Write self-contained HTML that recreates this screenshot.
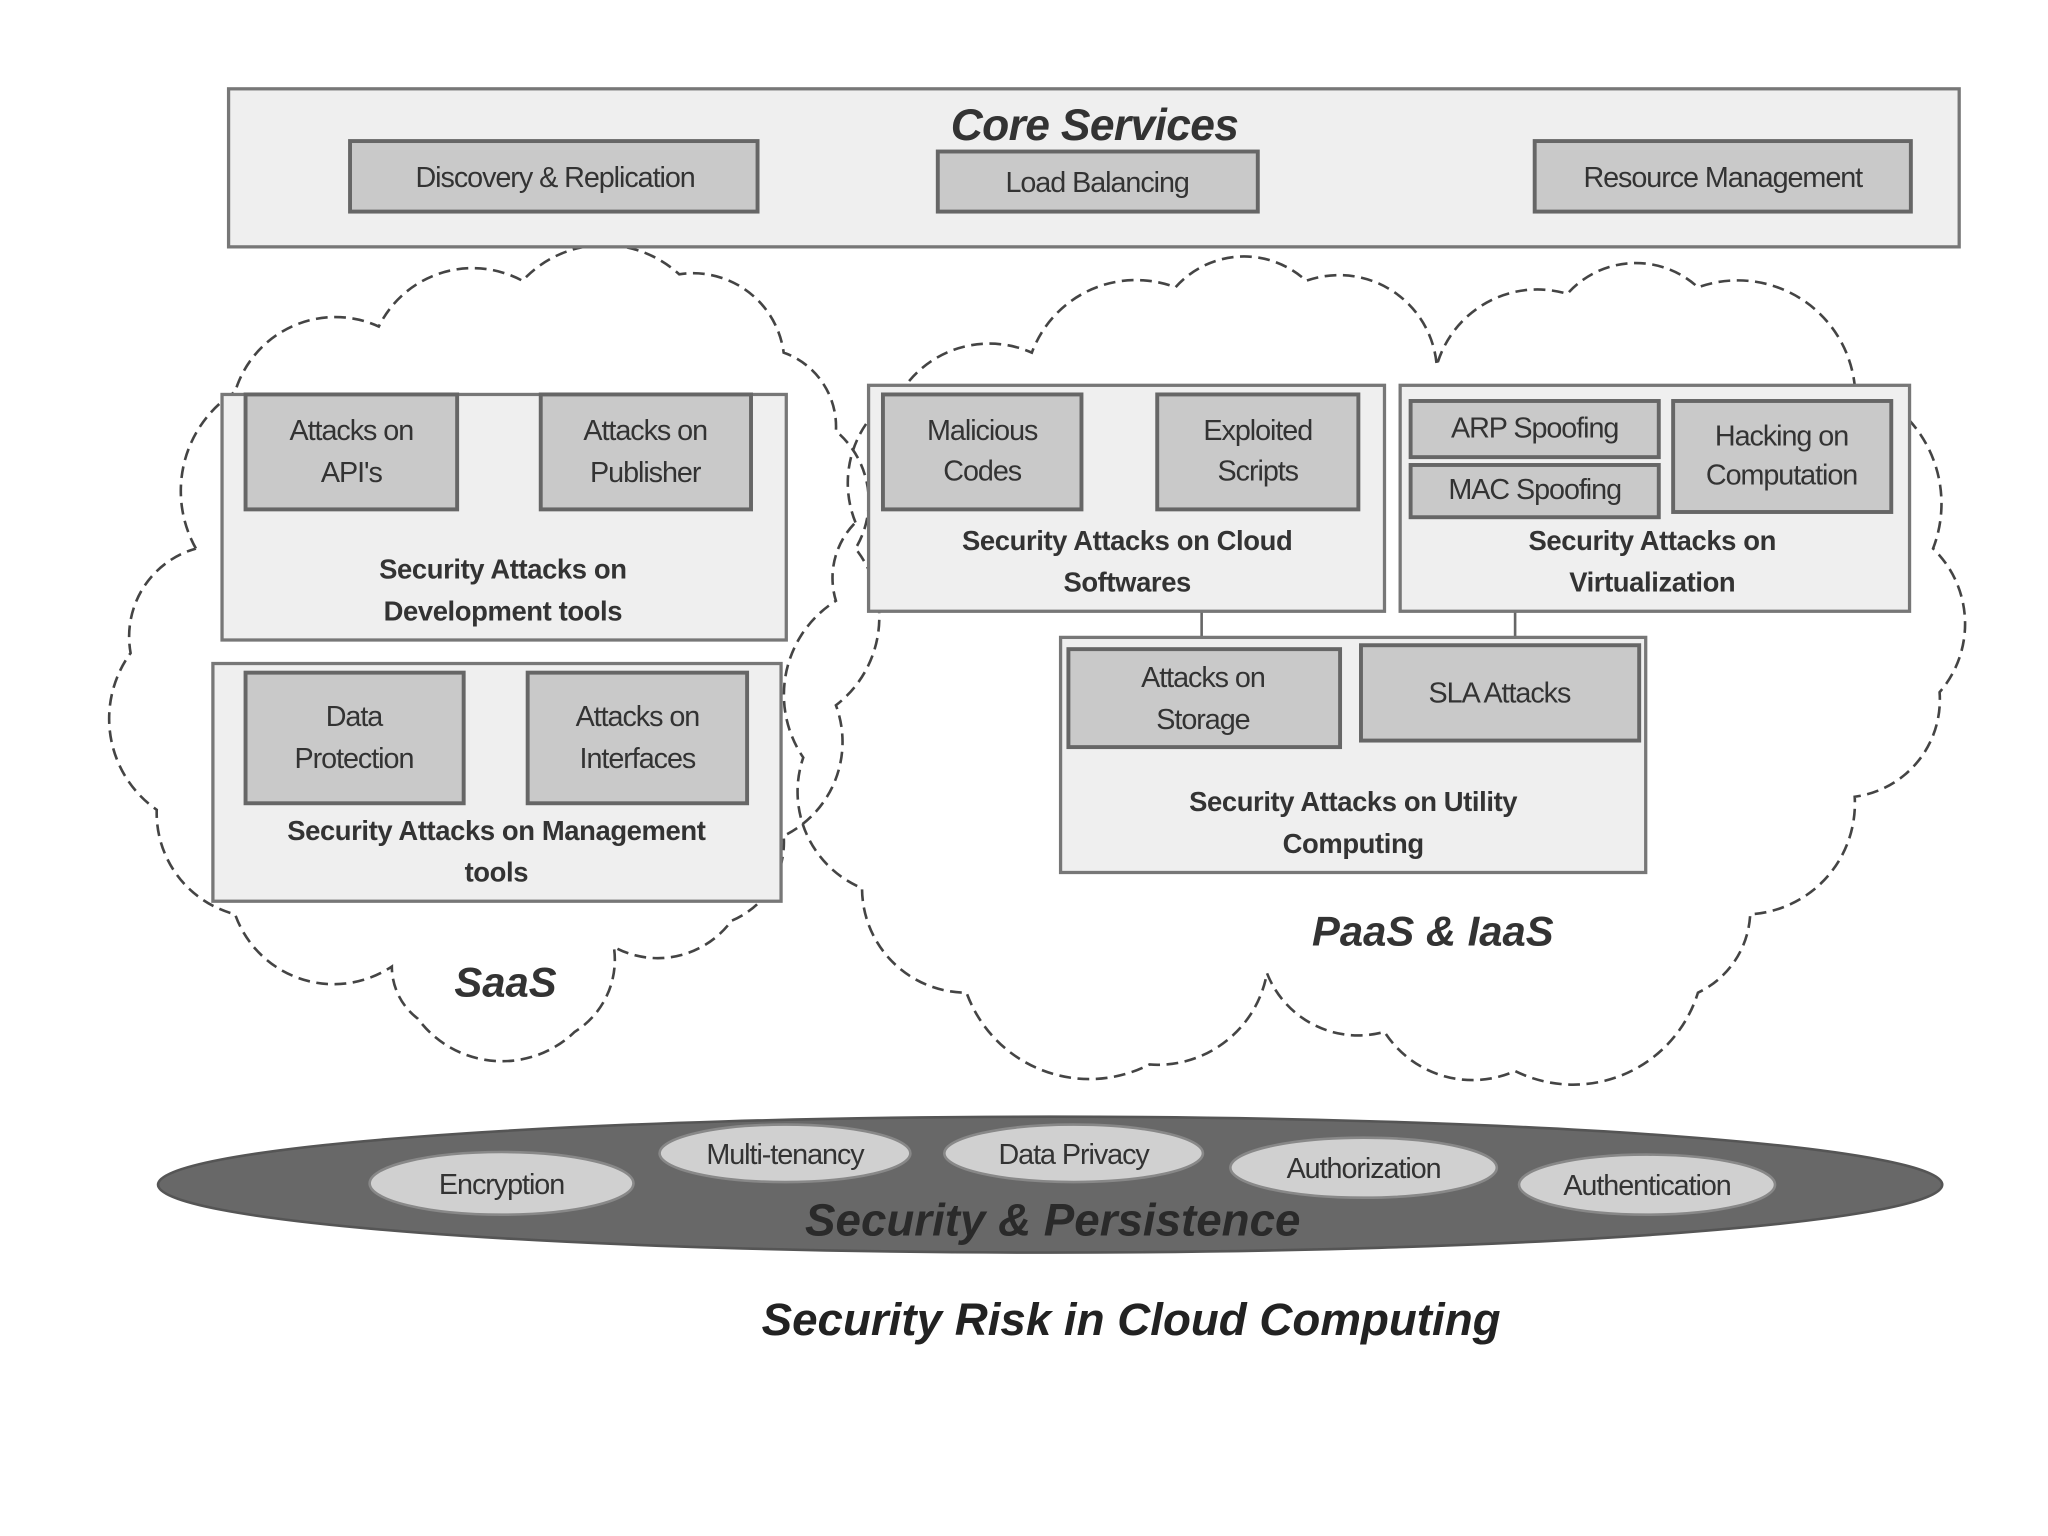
<!DOCTYPE html>
<html><head><meta charset="utf-8"><style>
html,body{margin:0;padding:0;background:#fff;width:2048px;height:1536px;overflow:hidden}
svg{display:block}
text{font-family:"Liberation Sans",sans-serif;fill:#333;text-anchor:middle}
.b{font-weight:bold}
.i{font-weight:bold;font-style:italic}
.ob{fill:#efefef;stroke:#777;stroke-width:2.5}
.ib{fill:#c9c9c9;stroke:#666;stroke-width:3}
.cl{fill:none;stroke:#444;stroke-width:2;stroke-dasharray:9 5}
.t{font-size:22px;letter-spacing:-0.8px}
.l{font-size:21px;font-weight:bold;letter-spacing:-0.3px}
</style></head><body>
<svg width="2048" height="1536" viewBox="0 0 1568 1176" xmlns="http://www.w3.org/2000/svg">
<!-- clouds -->
<path class="cl" d="M150,420 A90,90 0 0 1 180,300 A80,80 0 0 1 290,250 A80,80 0 0 1 400,215 A85,85 0 0 1 520,210 A70,70 0 0 1 600,270 A60,60 0 0 1 640,330 A70,70 0 0 1 655,420 A85,85 0 0 1 640,540 A80,80 0 0 1 600,640 A65,65 0 0 1 560,705 A70,70 0 0 1 470,725 A65,65 0 0 1 440,790 A80,80 0 0 1 320,780 A50,50 0 0 1 300,740 A80,80 0 0 1 180,700 A80,80 0 0 1 120,620 A85,85 0 0 1 100,500 A70,70 0 0 1 150,420"/>
<path class="cl" d="M655,400 A80,80 0 0 1 690,300 A80,80 0 0 1 790,270 A85,85 0 0 1 900,220 A70,70 0 0 1 1000,215 A75,75 0 0 1 1100,280 A80,80 0 0 1 1200,225 A70,70 0 0 1 1300,220 A90,90 0 0 1 1420,295 A95,95 0 0 1 1480,420 A80,80 0 0 1 1485,530 A75,75 0 0 1 1420,610 A85,85 0 0 1 1340,700 A70,70 0 0 1 1300,760 A100,100 0 0 1 1160,820 A80,80 0 0 1 1060,790 A75,75 0 0 1 970,745 A85,85 0 0 1 880,815 A100,100 0 0 1 740,760 A80,80 0 0 1 660,680 A80,80 0 0 1 615,580 A85,85 0 0 1 640,460 A60,60 0 0 1 655,400"/>

<!-- core services -->
<rect class="ob" x="175" y="68" width="1325" height="121"/>
<text x="838" y="107" class="i" style="font-size:34px;letter-spacing:-0.5px">Core Services</text>
<rect class="ib" x="268" y="108" width="312" height="54"/>
<text x="425" y="143" class="t">Discovery &amp; Replication</text>
<rect class="ib" x="718" y="116" width="245" height="46"/>
<text x="840" y="147" class="t">Load Balancing</text>
<rect class="ib" x="1175" y="108" width="288" height="54"/>
<text x="1319" y="143" class="t">Resource Management</text>

<!-- SaaS -->
<rect class="ob" x="170" y="302" width="432" height="188"/>
<rect class="ib" x="188" y="302" width="162" height="88"/>
<text x="269" y="337" class="t">Attacks on</text><text x="269" y="369" class="t">API's</text>
<rect class="ib" x="414" y="302" width="161" height="88"/>
<text x="494" y="337" class="t">Attacks on</text><text x="494" y="369" class="t">Publisher</text>
<text x="385" y="443" class="l">Security Attacks on</text>
<text x="385" y="475" class="l">Development tools</text>

<rect class="ob" x="163" y="508" width="435" height="182"/>
<rect class="ib" x="188" y="515" width="167" height="100"/>
<text x="271" y="556" class="t">Data</text><text x="271" y="588" class="t">Protection</text>
<rect class="ib" x="404" y="515" width="168" height="100"/>
<text x="488" y="556" class="t">Attacks on</text><text x="488" y="588" class="t">Interfaces</text>
<text x="380" y="643" class="l">Security Attacks on Management</text>
<text x="380" y="675" class="l">tools</text>
<text x="387" y="763" class="i" style="font-size:32px">SaaS</text>

<!-- PaaS -->
<line x1="920" y1="468" x2="920" y2="488" stroke="#666" stroke-width="2"/>
<line x1="1160" y1="468" x2="1160" y2="488" stroke="#666" stroke-width="2"/>
<rect class="ob" x="665" y="295" width="395" height="173"/>
<rect class="ib" x="676" y="302" width="152" height="88"/>
<text x="752" y="337" class="t">Malicious</text><text x="752" y="368" class="t">Codes</text>
<rect class="ib" x="886" y="302" width="154" height="88"/>
<text x="963" y="337" class="t">Exploited</text><text x="963" y="368" class="t">Scripts</text>
<text x="863" y="421" class="l">Security Attacks on Cloud</text>
<text x="863" y="453" class="l">Softwares</text>

<rect class="ob" x="1072" y="295" width="390" height="173"/>
<rect class="ib" x="1080" y="307" width="190" height="43"/>
<text x="1175" y="335" class="t">ARP Spoofing</text>
<rect class="ib" x="1080" y="356" width="190" height="40"/>
<text x="1175" y="382" class="t">MAC Spoofing</text>
<rect class="ib" x="1281" y="307" width="167" height="85"/>
<text x="1364" y="341" class="t">Hacking on</text><text x="1364" y="371" class="t">Computation</text>
<text x="1265" y="421" class="l">Security Attacks on</text>
<text x="1265" y="453" class="l">Virtualization</text>

<rect class="ob" x="812" y="488" width="448" height="180"/>
<rect class="ib" x="818" y="497" width="208" height="75"/>
<text x="921" y="526" class="t">Attacks on</text><text x="921" y="558" class="t">Storage</text>
<rect class="ib" x="1042" y="494" width="213" height="73"/>
<text x="1148" y="538" class="t">SLA Attacks</text>
<text x="1036" y="621" class="l">Security Attacks on Utility</text>
<text x="1036" y="653" class="l">Computing</text>
<text x="1097" y="724" class="i" style="font-size:32px">PaaS &amp; IaaS</text>

<!-- security ellipse -->
<ellipse cx="804" cy="907" rx="683" ry="52" fill="#686868" stroke="#555" stroke-width="2"/>
<ellipse cx="384" cy="906" rx="101" ry="24" fill="#d0d0d0" stroke="#888" stroke-width="2"/>
<text x="384" y="914" class="t">Encryption</text>
<ellipse cx="601" cy="883" rx="96" ry="22" fill="#d0d0d0" stroke="#888" stroke-width="2"/>
<text x="601" y="891" class="t">Multi-tenancy</text>
<ellipse cx="822" cy="883" rx="99" ry="22" fill="#d0d0d0" stroke="#888" stroke-width="2"/>
<text x="822" y="891" class="t">Data Privacy</text>
<ellipse cx="1044" cy="894" rx="102" ry="23" fill="#d0d0d0" stroke="#888" stroke-width="2"/>
<text x="1044" y="902" class="t">Authorization</text>
<ellipse cx="1261" cy="907" rx="98" ry="23" fill="#d0d0d0" stroke="#888" stroke-width="2"/>
<text x="1261" y="915" class="t">Authentication</text>
<text x="806" y="946" class="i" style="font-size:35px;fill:#2a2a2a">Security &amp; Persistence</text>

<text x="866" y="1022" class="i" style="font-size:35px;fill:#222">Security Risk in Cloud Computing</text>
</svg>
</body></html>
